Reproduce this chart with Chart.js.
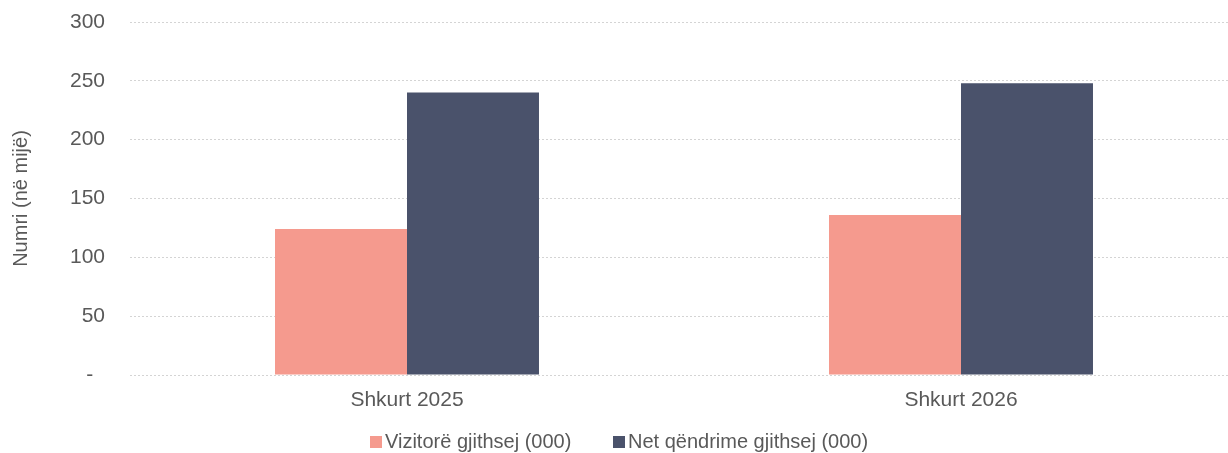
<!DOCTYPE html>
<html>
<head>
<meta charset="utf-8">
<script src="https://cdn.jsdelivr.net/npm/chart.js@4.4.1/dist/chart.umd.min.js"></script>
<style>
  html, body { margin: 0; padding: 0; overflow: hidden; background: #ffffff; }
  #wrap { position: relative; width: 1238px; height: 453px; }
  #legend { position: absolute; left: 0; top: 429px; width: 1228px; height: 24px;
            font-family: "Liberation Sans", Arial, sans-serif; font-size: 20px; color: #595959;
            white-space: nowrap; }
  .item { position: absolute; top: 0; line-height: 24px; }
  .box { display: inline-block; width: 12px; height: 12px; vertical-align: 0px; margin-right: 3px; }
</style>
</head>
<body>
<div id="wrap">
  <canvas id="c"></canvas>
  <div id="legend"></div>
</div>
<script>
const categories = ['Shkurt 2025', 'Shkurt 2026'];
const seriesNames = ['Vizitorë gjithsej (000)', 'Net qëndrime gjithsej (000)'];
const visitors = [124, 136];
const nights = [240, 248];
const yTickValues = [0, 50, 100, 150, 200, 250, 300];
const yTitle = 'Numri (në mijë)';
const colors = ['#F59A8E', '#4A526B'];

const FONT = '"Liberation Sans", Arial, sans-serif';
const TXT = '#595959';

const chart = new Chart(document.getElementById('c'), {
  type: 'bar',
  data: {
    labels: categories,
    datasets: [
      { label: seriesNames[0], data: visitors, backgroundColor: colors[0], borderWidth: 0,
        categoryPercentage: 0.4765, barPercentage: 1.0 },
      { label: seriesNames[1], data: nights, backgroundColor: colors[1], borderWidth: 0,
        categoryPercentage: 0.4765, barPercentage: 1.0 }
    ]
  },
  options: {
    responsive: true,
    maintainAspectRatio: false,
    animation: false,
    devicePixelRatio: 1,
    layout: { padding: { top: 22, right: 0, bottom: 40, left: 0 } },
    plugins: {
      legend: { display: false },
      tooltip: { enabled: false }
    },
    scales: {
      x: {
        offset: true,
        grid: { display: false, drawTicks: false },
        border: { display: false },
        ticks: { color: TXT, font: { family: FONT, size: 21 }, padding: 13, maxRotation: 0 },
        afterFit: (s) => { s.height = 38; }
      },
      y: {
        min: 0, max: 300,
        afterBuildTicks: (s) => { s.ticks = yTickValues.map(v => ({ value: v })); },
        grid: { color: '#d4d4d4', lineWidth: 1, drawTicks: true, tickLength: 20, tickColor: 'rgba(0,0,0,0)' },
        border: { display: false, dash: [2, 2] },
        ticks: {
          color: TXT, font: { family: FONT, size: 21 }, padding: 5,
          callback: (v) => v === 0 ? '-  ' : String(v)
        },
        title: { display: true, text: yTitle, color: TXT, font: { family: FONT, size: 20 },
                 padding: { top: 9, bottom: 0 } },
        afterFit: (s) => { s.width = 130; }
      }
    }
  }
});

// HTML legend built from the dataset names/colours
const legend = document.getElementById('legend');
const positions = [370, 613];
seriesNames.forEach((name, i) => {
  const it = document.createElement('div');
  it.className = 'item';
  it.style.left = positions[i] + 'px';
  const b = document.createElement('span');
  b.className = 'box';
  b.style.background = colors[i];
  it.appendChild(b);
  it.appendChild(document.createTextNode(name));
  legend.appendChild(it);
});
</script>
</body>
</html>
